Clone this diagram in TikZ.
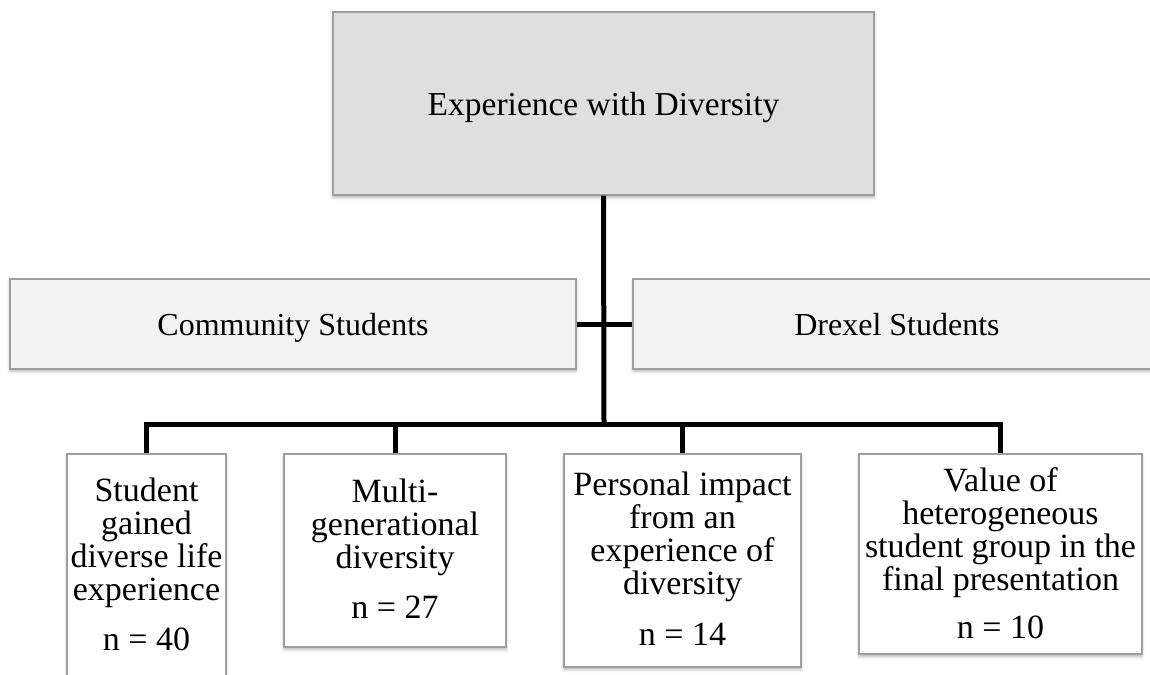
\documentclass[tikz,border=0pt]{standalone}
\usepackage{fontspec}
\setmainfont{Liberation Serif}
\usetikzlibrary{shadows.blur}

\tikzset{
  box/.style={draw=black!38, line width=1.1pt, rectangle, inner sep=0pt,
    blur shadow={shadow xshift=0pt, shadow yshift=-2.5pt, shadow blur radius=3pt, shadow opacity=30}},
  headbox/.style={box, fill=black!12.5},
  groupbox/.style={box, fill=black!5},
  themebox/.style={box, fill=white},
  headtext/.style={font=\fontsize{33.5}{36}\selectfont, anchor=base, inner sep=0pt},
  grouptext/.style={font=\fontsize{32}{36}\selectfont, anchor=base, inner sep=0pt},
  % multi-line labels: the base anchor sits on the last line (the count)
  themetext/.style={font=\fontsize{34}{33}\selectfont, align=center, anchor=base, inner sep=0pt},
  link/.style={line width=5pt, draw=black}
}

\begin{document}
\begin{tikzpicture}[x=1pt, y=-1pt]
\useasboundingbox (0,0) rectangle (1150,674);
\clip (0,0) rectangle (1150,674);

% boxes
\node[headbox, minimum width=541pt, minimum height=183pt] (head) at (603.5,103.5) {};
\node[groupbox, minimum width=566pt, minimum height=90pt] (comm) at (293,324) {};
\node[groupbox, minimum width=566pt, minimum height=90pt] (drex) at (916,324) {};
\node[themebox, minimum width=159pt, minimum height=246pt] (b1) at (146.5,577) {};
\node[themebox, minimum width=222pt, minimum height=193pt] (b2) at (395,550.5) {};
\node[themebox, minimum width=237pt, minimum height=213pt] (b3) at (682.5,560.5) {};
\node[themebox, minimum width=283pt, minimum height=200pt] (b4) at (1000.5,554) {};

% texts
\node[headtext] (headlbl) at (603.5,115) {Experience with Diversity};
\node[grouptext] (commlbl) at (293,335) {Community Students};
\node[grouptext] (drexlbl) at (897,335) {Drexel Students};
\node[themetext] (t1) at (146.5,650) {Student\\gained\\diverse life\\experience\\[17pt]n = 40};
\node[themetext] (t2) at (395,618) {Multi-\\generational\\diversity\\[17pt]n = 27};
\node[themetext] (t3) at (682.5,645) {Personal impact\\from an\\experience of\\diversity\\[18pt]n = 14};
\node[themetext] (t4) at (1000.5,638) {Value of\\heterogeneous\\student group in the\\final presentation\\[15pt]n = 10};

% connectors
\coordinate (hub) at (604,424);
\draw[link] (head.south) -- (hub);
\draw[link] (comm.east) -- (drex.west);
\draw[link] (b1.north) |- (b4.north |- hub) -- (b4.north);
\draw[link] (b2.north) -- (b2.north |- hub);
\draw[link] (b3.north) -- (b3.north |- hub);
\end{tikzpicture}
\end{document}
